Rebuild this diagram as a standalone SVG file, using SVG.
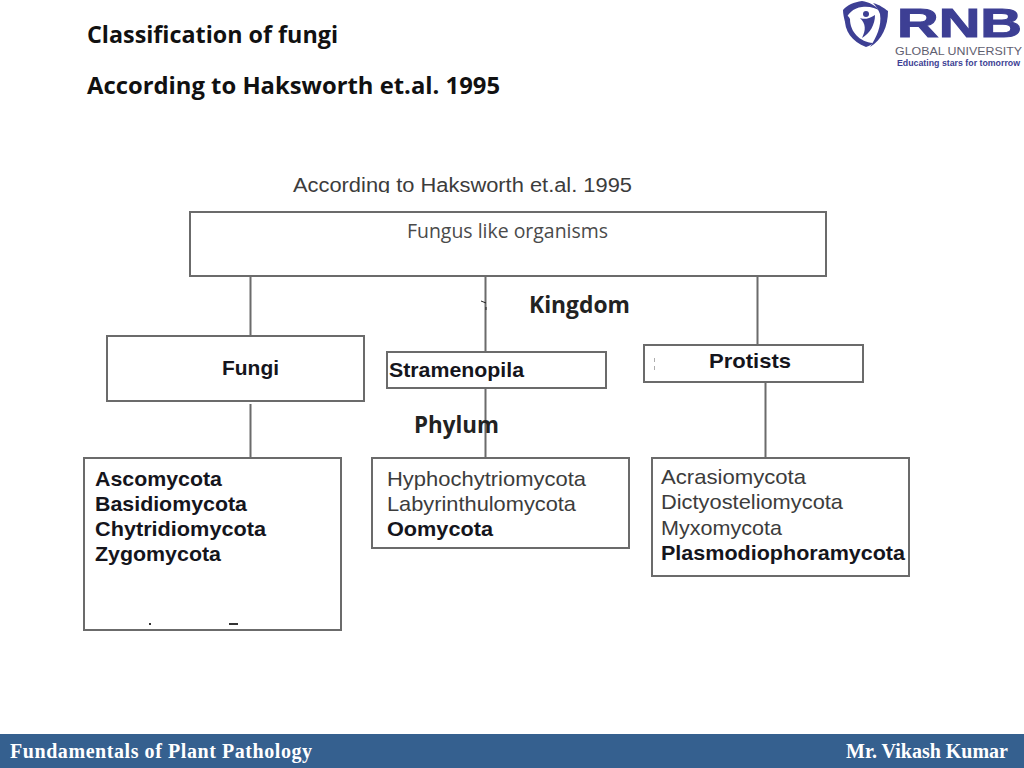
<svg xmlns="http://www.w3.org/2000/svg" width="1024" height="768" viewBox="0 0 1024 768">
<style>
.b{fill:#fff;stroke:#6b6b6b;stroke-width:2}
.c{fill:none;stroke:#6b6b6b;stroke-width:2}
.t{font-family:"Liberation Sans",Arial,sans-serif;font-size:21px;fill:#3c3c3c}
.tb{font-family:"Liberation Sans",Arial,sans-serif;font-size:21px;font-weight:bold;fill:#15151c}
.k{font-family:"Open Sans","Noto Sans",sans-serif;font-size:23px;font-weight:700;fill:#222}
.h{font-family:"Open Sans","Noto Sans",sans-serif;font-size:24px;font-weight:700;fill:#111}
.f{font-family:"Liberation Serif",serif;font-size:20px;font-weight:bold;fill:#fff}
.s{fill:#3d3f94}
.m{fill:#333}
</style>
<rect width="1024" height="768" fill="#fff"/>
<g id="heading">
<text class="h" x="87" y="43" textLength="251" lengthAdjust="spacingAndGlyphs">Classification of fungi</text>
<text class="h" x="87" y="94" textLength="413" lengthAdjust="spacingAndGlyphs">According to Haksworth et.al. 1995</text>
</g>
<g id="logo">
<path class="s" d="M862 1C854 2 847 5 843 10C843 14 844 18 845 22C847 14 853 8 862 7C869 6 876 8 880 11C875 5 869 2 862 1Z"/>
<path class="s" d="M873 3C880 5 884 8 888 11C888 26 882 40 870 47C876 38 882 26 880 14C878 9 876 6 873 3Z"/>
<path class="s" d="M845 18C844 30 852 42 866 47C870 46 872 44 873 43C860 42 850 32 850 19C848 15 846 15 845 18Z"/>
<circle class="s" cx="866" cy="14" r="3"/>
<path class="s" d="M860 18C862 19 868 20 875 15C875 25 870 33 862 38C866 30 866 24 860 18Z"/>
<text x="897" y="36.500" font-family="'Liberation Sans',Arial,sans-serif" font-size="40" font-weight="bold" fill="#3d3f94" stroke="#3d3f94" stroke-width="1" textLength="125" lengthAdjust="spacingAndGlyphs">RNB</text>
<text x="895" y="54.500" font-family="'Liberation Sans',Arial,sans-serif" font-size="11" fill="#5f6070" textLength="127" lengthAdjust="spacingAndGlyphs">GLOBAL UNIVERSITY</text>
<text x="897" y="66" font-family="'Liberation Sans',Arial,sans-serif" font-size="9" font-weight="bold" fill="#3d3f94" textLength="123" lengthAdjust="spacingAndGlyphs">Educating stars for tomorrow</text>
</g>
<text x="293" y="192" font-family="'Liberation Sans',Arial,sans-serif" font-size="20" fill="#3c3c3c" textLength="339" lengthAdjust="spacingAndGlyphs">According to Haksworth et.al. 1995</text>
<rect x="285" y="193" width="355" height="7" fill="#fff"/>
<g id="connectors">
<path class="c" d="M250.500 276V336M485.500 276V351M757.500 276V344M250.500 404V457M485.500 389V457M765.500 382V457"/>
<path d="M481 301L486 303M486 307V310" stroke="#222" stroke-width="1" fill="none"/>
</g>
<g id="n-root"><rect class="b" x="190" y="212" width="636" height="64"/>
<text x="407" y="238" font-family="'Open Sans','Noto Sans',sans-serif" font-size="19.500" fill="#4a4a4a" textLength="201" lengthAdjust="spacingAndGlyphs">Fungus like organisms</text></g>
<g id="n-kingdom"><text class="k" x="529" y="313" textLength="101" lengthAdjust="spacingAndGlyphs">Kingdom</text></g>
<g id="n-fungi"><rect class="b" x="107" y="336" width="257" height="65"/>
<text class="tb" x="222" y="375" textLength="57" lengthAdjust="spacingAndGlyphs">Fungi</text></g>
<g id="n-stramenopila"><rect class="b" x="387" y="352" width="219" height="36"/>
<text class="tb" x="389" y="377" textLength="135" lengthAdjust="spacingAndGlyphs">Stramenopila</text></g>
<g id="n-protists"><rect class="b" x="644" y="345" width="219" height="37"/>
<rect class="m" x="654" y="358" width="1" height="4" opacity=".4"/><rect class="m" x="654" y="366" width="1" height="4" opacity=".4"/>
<text class="tb" x="709" y="368" textLength="82" lengthAdjust="spacingAndGlyphs">Protists</text></g>
<g id="n-phylum"><text class="k" x="414" y="433" textLength="85" lengthAdjust="spacingAndGlyphs">Phylum</text></g>
<g id="n-asco"><rect class="b" x="84" y="458" width="257" height="172"/>
<rect class="m" x="149" y="623" width="2" height="2"/><rect class="m" x="229" y="623" width="9" height="2"/>
<text class="tb" x="95" y="486" textLength="127" lengthAdjust="spacingAndGlyphs">Ascomycota</text>
<text class="tb" x="95" y="511" textLength="152" lengthAdjust="spacingAndGlyphs">Basidiomycota</text>
<text class="tb" x="95" y="536" textLength="171" lengthAdjust="spacingAndGlyphs">Chytridiomycota</text>
<text class="tb" x="95" y="561" textLength="126" lengthAdjust="spacingAndGlyphs">Zygomycota</text></g>
<g id="n-hypho"><rect class="b" x="372" y="458" width="257" height="90"/>
<text class="t" x="387" y="486" textLength="199" lengthAdjust="spacingAndGlyphs">Hyphochytriomycota</text>
<text class="t" x="387" y="511" textLength="189" lengthAdjust="spacingAndGlyphs">Labyrinthulomycota</text>
<text class="tb" x="387" y="536" textLength="106" lengthAdjust="spacingAndGlyphs">Oomycota</text></g>
<g id="n-acras"><rect class="b" x="652" y="458" width="257" height="118"/>
<text class="t" x="661" y="484" textLength="145" lengthAdjust="spacingAndGlyphs">Acrasiomycota</text>
<text class="t" x="661" y="509" textLength="182" lengthAdjust="spacingAndGlyphs">Dictyosteliomycota</text>
<text class="t" x="661" y="535" textLength="121" lengthAdjust="spacingAndGlyphs">Myxomycota</text>
<text class="tb" x="661" y="560" textLength="244" lengthAdjust="spacingAndGlyphs">Plasmodiophoramycota</text></g>
<g id="footer"><rect x="0" y="734" width="1024" height="34" fill="#35608f"/>
<text class="f" x="10" y="758" textLength="302" lengthAdjust="spacing">Fundamentals of Plant Pathology</text>
<text class="f" x="846" y="758" textLength="162" lengthAdjust="spacing">Mr. Vikash Kumar</text></g>
</svg>
